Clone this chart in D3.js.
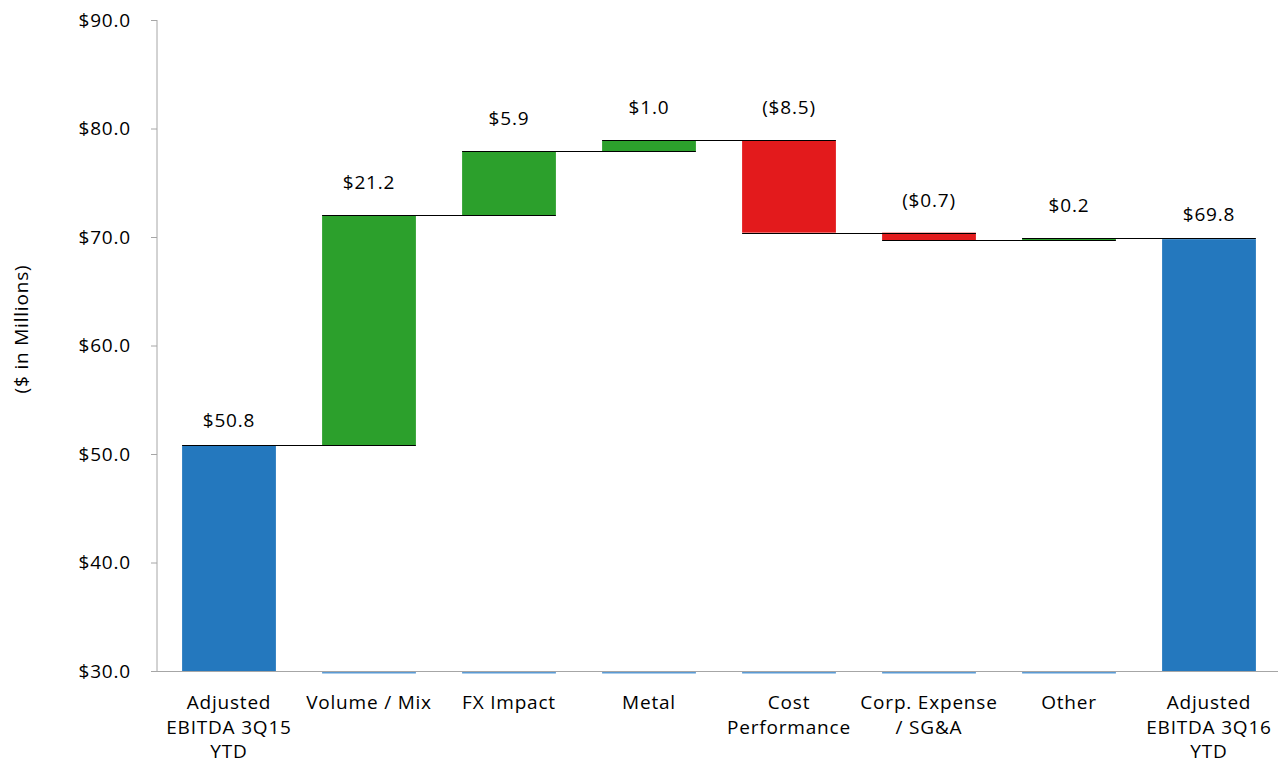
<!DOCTYPE html>
<html><head><meta charset="utf-8">
<script src="https://cdn.jsdelivr.net/npm/d3@7"></script>
<style>body{margin:0;background:#fff;} text{font-family:"Open Sans","Liberation Sans",sans-serif;letter-spacing:0.8px;}</style>
</head><body><svg id="c" width="1278" height="768"></svg>
<script>
const categories = [["Adjusted","EBITDA 3Q15","YTD"],["Volume / Mix"],["FX Impact"],["Metal"],["Cost","Performance"],["Corp. Expense","/ SG&A"],["Other"],["Adjusted","EBITDA 3Q16","YTD"]];
const startValue = 50.8;
const deltas = [21.2, 5.9, 1.0, -8.5, -0.7, 0.2];
const endValue = 69.8;
const labels = ["$50.8","$21.2","$5.9","$1.0","($8.5)","($0.7)","$0.2","$69.8"];
const yTicks = [30,40,50,60,70,80,90];

const colors = {total:"#2478be", up:"#2ca02c", down:"#e31a1c", base:"#5b9bd5", axis:"#a6a6a6"};

const bars = [];
let cum = startValue;
bars.push({i:0, y0:30, y1:startValue, type:"total"});
deltas.forEach((d,k)=>{
  const a = cum, b = cum + d;
  bars.push({i:k+1, y0:Math.min(a,b), y1:Math.max(a,b), type:d>=0?"up":"down", level:b});
  cum = b;
});
bars.push({i:7, y0:30, y1:endValue, type:"total"});

const svg = d3.select("#c");
const x = d3.scaleBand().domain(d3.range(8)).range([159,1279]).paddingInner(0.33).paddingOuter(0.165);
const y = d3.scaleLinear().domain([30,90]).range([671,20]);

const yAxis = svg.append("g").attr("transform","translate(157,0)")
  .call(d3.axisLeft(y).tickValues(yTicks).tickSize(6).tickPadding(20).tickFormat(d=>"$"+d3.format(".1f")(d)));
yAxis.select(".domain").attr("stroke",colors.axis).attr("d","M0,20V671");
yAxis.selectAll(".tick line").attr("stroke",colors.axis);
yAxis.selectAll(".tick text").attr("font-size",19).attr("fill","#000");

svg.selectAll(".base").data(bars.filter(b=>b.type!=="total")).enter().append("rect")
  .attr("x",d=>x(d.i)).attr("width",x.bandwidth()).attr("y",y(30)).attr("height",2.5)
  .attr("fill",colors.base);

svg.append("line").attr("x1",151).attr("x2",1278).attr("y1",y(30)+0.5).attr("y2",y(30)+0.5).attr("stroke",colors.axis);

svg.selectAll(".bar").data(bars).enter().append("rect")
  .attr("x",d=>x(d.i)).attr("width",x.bandwidth())
  .attr("y",d=>y(d.y1)).attr("height",d=>y(d.y0)-y(d.y1))
  .attr("fill",d=>colors[d.type]);

const levels = [startValue];
cum = startValue; deltas.forEach(d=>{cum+=d; levels.push(cum);});
levels.forEach((lv,k)=>{
  svg.append("line").attr("x1",x(k)).attr("x2",x(k+1)+x.bandwidth())
    .attr("y1",Math.round(y(lv))+0.5).attr("y2",Math.round(y(lv))+0.5)
    .attr("stroke","#000").attr("stroke-width",1);
});

svg.selectAll(".lab").data(bars).enter().append("text")
  .attr("x",d=>x(d.i)+x.bandwidth()/2).attr("y",d=>y(d.y1)-(d.type==="total"?18:26))
  .attr("text-anchor","middle").attr("font-size",19).attr("fill","#000")
  .text((d,k)=>labels[k]);

categories.forEach((lines,k)=>{
  const t = svg.append("text").attr("x",x(k)+x.bandwidth()/2).attr("y",709)
    .attr("text-anchor","middle").attr("font-size",19).attr("fill","#000");
  lines.forEach((ln,j)=>t.append("tspan").attr("x",x(k)+x.bandwidth()/2).attr("dy",j?24.5:0).text(ln));
});

svg.append("text").attr("transform","translate(28,329) rotate(-90)").attr("text-anchor","middle")
  .attr("font-size",19).attr("fill","#000").text("($ in Millions)");
</script></body></html>
